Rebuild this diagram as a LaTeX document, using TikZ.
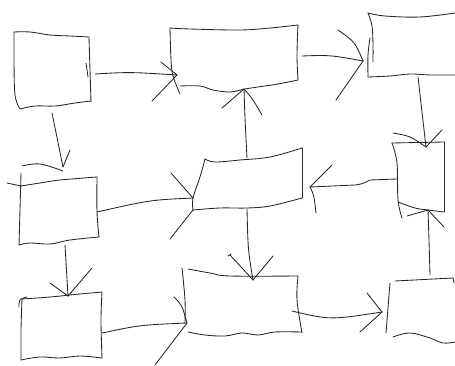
\documentclass[tikz,border=0pt]{standalone}
\begin{document}
\begin{tikzpicture}[x=1pt,y=-1pt,
  sk/.style={draw=black!85,line width=0.85pt,line cap=round,line join=round},
  wob/.style={sk,smooth,tension=0.6}]
\useasboundingbox (0,0) rectangle (455,366);
% ---------- boxes ----------
% A
\draw[sk] plot[smooth,tension=0.6] coordinates {(14,32) (30,32) (50,35) (70,36) (89,37)};
\draw[sk] plot[smooth,tension=0.6] coordinates {(14,32) (14,60) (15,95) (20,109)};
\draw[sk] plot[smooth,tension=0.6] coordinates {(89,37) (90,70) (91,102)};
\draw[sk] plot[smooth,tension=0.6] coordinates {(20,109) (35,106) (55,106) (75,103) (91,101)};
\draw[sk] (86,63) -- (88,77);
% B
\draw[sk] plot[smooth,tension=0.6] coordinates {(170,28) (190,29) (240,30) (270,28) (298,25)};
\draw[sk] plot[smooth,tension=0.6] coordinates {(170,28) (171,60) (173,76) (180,94)};
\draw[sk] plot[smooth,tension=0.6] coordinates {(298,25) (297,55) (298,80)};
\draw[sk] plot[smooth,tension=0.6] coordinates {(180,86) (200,86) (213,90) (230,92) (245,89) (258,87) (278,84) (298,80)};
% C
\draw[sk] plot[smooth,tension=0.6] coordinates {(368,13) (385,16) (420,17) (455,13)};
\draw[sk] plot[smooth,tension=0.6] coordinates {(368,13) (372,26) (373,45) (373,62)};
\draw[sk] plot[smooth,tension=0.6] coordinates {(370,38) (368,55) (368,77)};
\draw[sk] plot[smooth,tension=0.6] coordinates {(368,77) (390,76) (410,74) (430,75) (455,75)};
% D
\draw[sk] (392,143) -- (444,142);
\draw[sk] plot[smooth,tension=0.6] coordinates {(392,143) (397,163) (398,200) (402,218)};
\draw[sk] (444,142) -- (444,212);
\draw[sk] plot[smooth,tension=0.6] coordinates {(398,202) (415,208) (428,210) (444,212)};
% E
\draw[sk] plot[smooth,tension=0.6] coordinates {(205,159) (215,162) (240,160) (270,157) (302,148)};
\draw[sk] plot[smooth,tension=0.6] coordinates {(205,159) (200,177) (193,198) (193,210)};
\draw[sk] (302,148) -- (302,198);
\draw[sk] plot[smooth,tension=0.6] coordinates {(193,210) (220,208) (247,208) (270,206) (302,198)};
% G
\draw[sk] plot[smooth,tension=0.6] coordinates {(22,166) (40,164) (63,171)};
\draw[sk] plot[smooth,tension=0.6] coordinates {(21,173) (20,210) (19,245)};
\draw[sk] (7,183) -- (21,186);
\draw[sk] plot[smooth,tension=0.6] coordinates {(21,186) (40,183) (60,180) (97,177)};
\draw[sk] plot[smooth,tension=0.6] coordinates {(97,177) (97,212) (99,237)};
\draw[sk] plot[smooth,tension=0.6] coordinates {(19,245) (30,243) (50,244) (70,240) (99,237)};
% H
\draw[sk] plot[smooth,tension=0.6] coordinates {(188,269) (210,273) (230,276) (298,276)};
\draw[sk] plot[smooth,tension=0.6] coordinates {(182,268) (185,300) (185,323)};
\draw[sk] plot[smooth,tension=0.6] coordinates {(298,276) (297,300) (302,333)};
\draw[sk] plot[smooth,tension=0.6] coordinates {(188,332) (205,335) (225,336) (242,333) (258,335) (275,332) (302,332)};
% I
\draw[sk] plot[smooth,tension=0.6] coordinates {(19,307) (20,300) (27,297)};
\draw[sk] plot[smooth,tension=0.6] coordinates {(22,299) (50,297) (80,294) (102,292)};
\draw[sk] plot[smooth,tension=0.6] coordinates {(22,299) (21,330) (21,360)};
\draw[sk] plot[smooth,tension=0.6] coordinates {(102,292) (101,320) (102,358)};
\draw[sk] plot[smooth,tension=0.6] coordinates {(21,360) (40,357) (60,358) (80,356) (102,358)};
% J
\draw[sk] (395,281) -- (453,278) -- (454,283);
\draw[sk] (390,283) -- (386,333);
\draw[sk] plot[smooth,tension=0.6] coordinates {(393,337) (410,333) (430,338) (443,343) (455,342)};
% ---------- connector end points ----------
\coordinate (aR) at (95,74);   \coordinate (bL) at (177,75);
\coordinate (aB) at (52,113);  \coordinate (gT) at (63,167);
\coordinate (bR) at (302,56);  \coordinate (cL) at (363,61);
\coordinate (eT) at (247,158); \coordinate (bB) at (244,89);
\coordinate (cB) at (418,77);  \coordinate (dT) at (426,147);
\coordinate (dL) at (397,179); \coordinate (eR) at (310,187);
\coordinate (gR) at (97,212);  \coordinate (eL) at (193,198);
\coordinate (eB) at (247,209); \coordinate (hT) at (253,280);
\coordinate (gB) at (65,245);  \coordinate (iT) at (68,296);
\coordinate (iR) at (102,333); \coordinate (hL) at (187,323);
\coordinate (hR) at (292,311); \coordinate (jL) at (382,312);
\coordinate (jT) at (430,275); \coordinate (dB) at (428,210);
% ---------- connectors ----------
\draw[sk] (aR) .. controls (130,72) .. (bL);
\draw[sk] (161,62) -- (bL); \draw[sk] (152,101) .. controls (165,88) .. (bL);
\draw[sk] (aB) .. controls (57,140) .. (gT);
\draw[sk] (70,150) -- (gT);
\draw[sk] (bR) .. controls (330,55) .. (cL);
\draw[sk] (338,30) .. controls (355,42) .. (cL); \draw[sk] (336,100) -- (cL);
\draw[sk] (eT) .. controls (245,120) .. (bB);
\draw[sk] (222,108) -- (bB); \draw[sk] (262,115) .. controls (252,98) .. (bB);
\draw[sk] (cB) -- (dT);
\draw[sk] (393,133) .. controls (410,136) .. (dT); \draw[sk] (442,130) -- (dT);
\draw[sk] (dL) -- (370,180) .. controls (362,184) .. (355,185) -- (eR);
\draw[sk] (332,165) -- (eR); \draw[sk] (eR) .. controls (314,195) .. (316,213);
\draw[sk] (gR) .. controls (150,200) .. (eL);
\draw[sk] (171,173) -- (eL); \draw[sk] (170,239) -- (193,210);
\draw[sk] (eB) .. controls (248,250) .. (hT);
\draw[sk] (230,255) -- (hT); \draw[sk] (228,256) -- (231,254); \draw[sk] (273,256) -- (hT);
\draw[sk] (gB) .. controls (67,270) .. (iT);
\draw[sk] (50,283) -- (iT); \draw[sk] (92,268) -- (iT);
\draw[sk] (iR) .. controls (140,325) .. (hL);
\draw[sk] (174,297) .. controls (182,305) .. (hL); \draw[sk] (155,365) -- (hL);
\draw[sk] (hR) .. controls (330,320) .. (jL);
\draw[sk] (367,293) -- (jL); \draw[sk] (360,332) -- (jL);
\draw[sk] (jT) .. controls (429,240) .. (dB);
\draw[sk] (407,216) -- (dB); \draw[sk] (444,227) -- (dB);
\end{tikzpicture}
\end{document}
